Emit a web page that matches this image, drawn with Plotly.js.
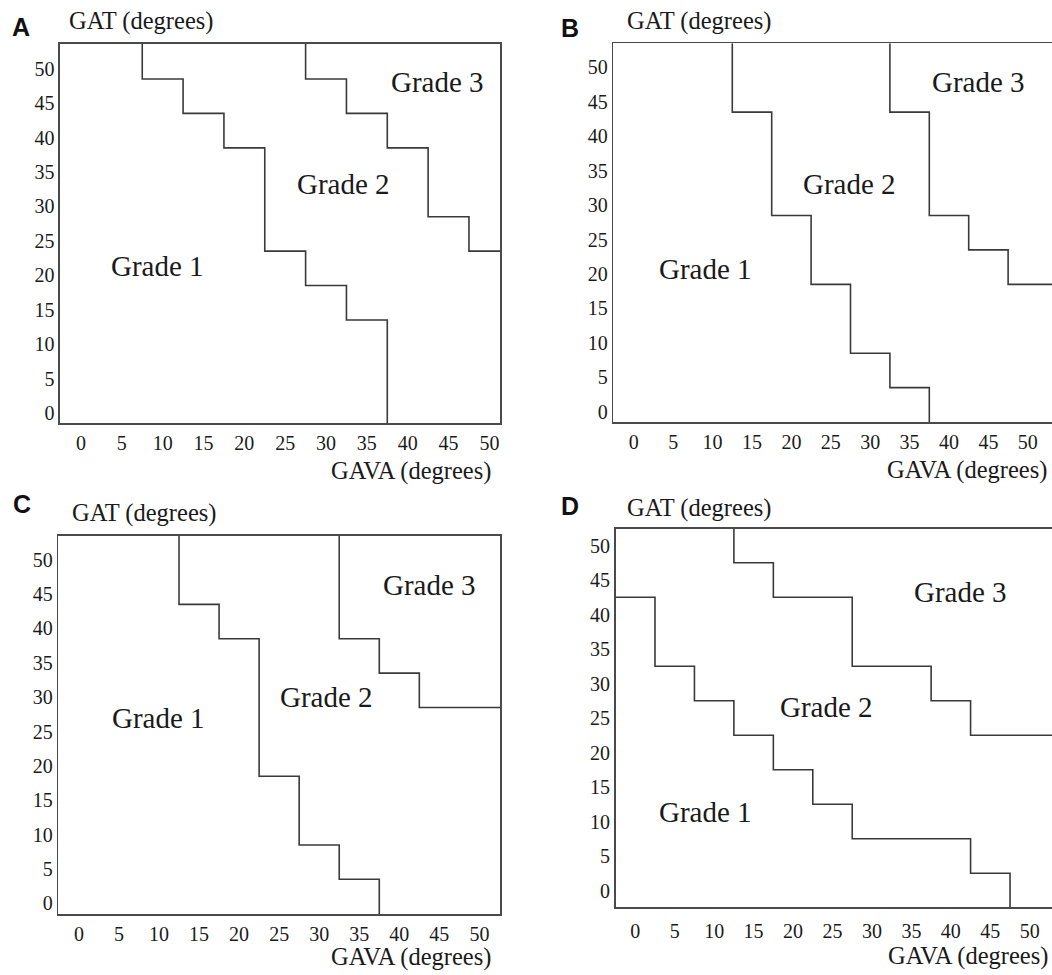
<!DOCTYPE html>
<html>
<head>
<meta charset="utf-8">
<script src="https://cdn.plot.ly/plotly-3.0.1.min.js"></script>
<style>
html,body{margin:0;padding:0;background:#fff;overflow:hidden;}
#chart{width:1052px;height:975px;}
</style>
</head>
<body>
<div id="chart"></div>
<script>
// ---- Data (GAVA breakpoints, GAT levels in degrees) ----
const tickValues = [0, 5, 10, 15, 20, 25, 30, 35, 40, 45, 50];
const tickLabels = ["0", "5", "10", "15", "20", "25", "30", "35", "40", "45", "50"];
const panelLetters = ["A", "B", "C", "D"];
const gradeNames = ["Grade 1", "Grade 2", "Grade 3"];

// Panel A
const A_g12_gava = [7.5, 12.5, 17.5, 22.5, 27.5, 32.5, 37.5];
const A_g12_gat  = [48.5, 43.5, 38.5, 23.5, 18.5, 13.5];
const A_g23_gava = [27.5, 32.5, 37.5, 42.5, 47.5];
const A_g23_gat  = [48.5, 43.5, 38.5, 28.5, 23.5];
// Panel B
const B_g12_gava = [12.5, 17.5, 22.5, 27.5, 32.5, 37.5];
const B_g12_gat  = [43.5, 28.5, 18.5, 8.5, 3.5];
const B_g23_gava = [32.5, 37.5, 42.5, 47.5];
const B_g23_gat  = [43.5, 28.5, 23.5, 18.5];
// Panel C
const C_g12_gava = [12.5, 17.5, 22.5, 27.5, 32.5, 37.5];
const C_g12_gat  = [43.5, 38.5, 18.5, 8.5, 3.5];
const C_g23_gava = [32.5, 37.5, 42.5];
const C_g23_gat  = [38.5, 33.5, 28.5];
// Panel D (grade 1/2 boundary starts at the left edge)
const D_g12_gava = [2.5, 7.5, 12.5, 17.5, 22.5, 27.5, 42.5, 47.5];
const D_g12_gat  = [42.5, 32.5, 27.5, 22.5, 17.5, 12.5, 7.5, 2.5];
const D_g23_gava = [12.5, 17.5, 27.5, 37.5, 42.5];
const D_g23_gat  = [47.5, 42.5, 32.5, 27.5, 22.5];

// Grade label positions (GAVA, GAT)
const A_labelGava = [9.4, 32.1, 43.7];
const A_labelGat  = [21.4, 33.2, 48.1];
const B_labelGava = [9.1, 27.4, 43.7];
const B_labelGat  = [20.7, 33.0, 47.9];
const C_labelGava = [9.9, 30.9, 43.8];
const C_labelGat  = [27.0, 30.0, 46.3];
const D_labelGava = [8.9, 24.3, 41.2];
const D_labelGat  = [11.4, 26.6, 43.2];

// ---- Layout geometry ----
const W = 1052, H = 975;
const panels = [
  {box:[60, 500, 44, 423],     xr:[-2.57, 51.3], yr:[-1.46, 53.58], mirrorY:true, xstand:1,
   g12:[A_g12_gava, A_g12_gat, "top"], g23:[A_g23_gava, A_g23_gat],
   lab:[A_labelGava, A_labelGat], letter:[21, 27], gat:[67, 21], gava:[493, 471]},
  {box:[613.3, 1052, 43.3, 422.3], xr:[-2.6, 53.07], yr:[-1.53, 53.5], mirrorY:false, xstand:1,
   g12:[B_g12_gava, B_g12_gat, "top"], g23:[B_g23_gava, B_g23_gat],
   lab:[B_labelGava, B_labelGat], letter:[570, 28], gat:[625, 21], gava:[1049, 470]},
  {box:[58.3, 500, 535.7, 914], xr:[-2.57, 52.57], yr:[-1.55, 53.5], mirrorY:true, xstand:1,
   g12:[C_g12_gava, C_g12_gat, "top"], g23:[C_g23_gava, C_g23_gat],
   lab:[C_labelGava, C_labelGat], letter:[22, 504], gat:[70, 513], gava:[492.7, 957]},
  {box:[615.7, 1052, 529, 907.3], xr:[-2.48, 52.82], yr:[-2.43, 52.4], mirrorY:false, xstand:5,
   g12:[D_g12_gava, D_g12_gat, "left"], g23:[D_g23_gava, D_g23_gat],
   lab:[D_labelGava, D_labelGat], letter:[570, 506], gat:[625, 508], gava:[1050, 956]}
];

const lineColor = "#3a3a3a";
const textColor = "#1a1a1a";
const serif = "Liberation Serif";

const traces = [];
const annotations = [];
const layout = {
  width: W, height: H,
  margin: {l:0, r:0, t:0, b:0},
  paper_bgcolor: "#fff", plot_bgcolor: "#fff",
  showlegend: false,
  font: {family: serif, size: 20, color: textColor},
  annotations: annotations
};

function axisBase() {
  return {
    showgrid:false, zeroline:false, showline:true, linecolor:"#4a4a4a", linewidth:1.6,
    ticks:"", tickmode:"array", tickvals:tickValues.slice(), ticktext:tickLabels.slice(),
    tickfont:{family:serif, size:20, color:textColor}, fixedrange:true
  };
}

panels.forEach((p, i) => {
  const n = i === 0 ? "" : String(i + 1);
  const xa = "x" + n, ya = "y" + n;
  const [x0, x1, y0, y1] = p.box;
  layout["xaxis" + n] = Object.assign(axisBase(), {
    domain:[x0 / W, x1 / W], range:p.xr, anchor:ya, mirror:true,
    ticklabelstandoff: p.xstand
  });
  layout["yaxis" + n] = Object.assign(axisBase(), {
    domain:[1 - y1 / H, 1 - y0 / H], range:p.yr, anchor:xa, mirror:p.mirrorY,
    ticklabelstandoff: -4.5
  });

  // grade 1/2 boundary
  let gx, gy;
  const [g12x, g12y, start] = p.g12;
  if (start === "top") {
    gx = g12x.concat([g12x[g12x.length - 1]]);
    gy = [p.yr[1]].concat(g12y, [p.yr[0]]);
  } else {
    gx = [p.xr[0]].concat(g12x, [g12x[g12x.length - 1]]);
    gy = [g12y[0]].concat(g12y, [p.yr[0]]);
  }
  traces.push({type:"scatter", mode:"lines", x:gx, y:gy, xaxis:xa, yaxis:ya,
    line:{color:lineColor, width:1.6, shape:"vh"}, hoverinfo:"skip"});
  // grade 2/3 boundary (top edge to right edge)
  const [g23x, g23y] = p.g23;
  traces.push({type:"scatter", mode:"lines",
    x:g23x.concat([p.xr[1]]), y:[p.yr[1]].concat(g23y), xaxis:xa, yaxis:ya,
    line:{color:lineColor, width:1.6, shape:"vh"}, hoverinfo:"skip"});

  gradeNames.forEach((g, k) => {
    annotations.push({xref:xa, yref:ya, x:p.lab[0][k], y:p.lab[1][k], text:g,
      showarrow:false, xanchor:"center", yanchor:"middle",
      font:{family:serif, size:29, color:textColor}});
  });
  annotations.push({xref:"paper", yref:"paper", x:p.letter[0] / W, y:1 - p.letter[1] / H,
    text:"<b>" + panelLetters[i] + "</b>", showarrow:false, xanchor:"center", yanchor:"middle",
    font:{family:"Liberation Sans", size:25, color:"#111"}});
  annotations.push({xref:"paper", yref:"paper", x:p.gat[0] / W, y:1 - p.gat[1] / H,
    text:"GAT (degrees)", showarrow:false, xanchor:"left", yanchor:"middle",
    font:{family:serif, size:24.5, color:textColor}});
  annotations.push({xref:"paper", yref:"paper", x:p.gava[0] / W, y:1 - p.gava[1] / H,
    text:"GAVA (degrees)", showarrow:false, xanchor:"right", yanchor:"middle",
    font:{family:serif, size:24.5, color:textColor}});
});

Plotly.newPlot("chart", traces, layout, {displayModeBar:false, staticPlot:true});
</script>
</body>
</html>
